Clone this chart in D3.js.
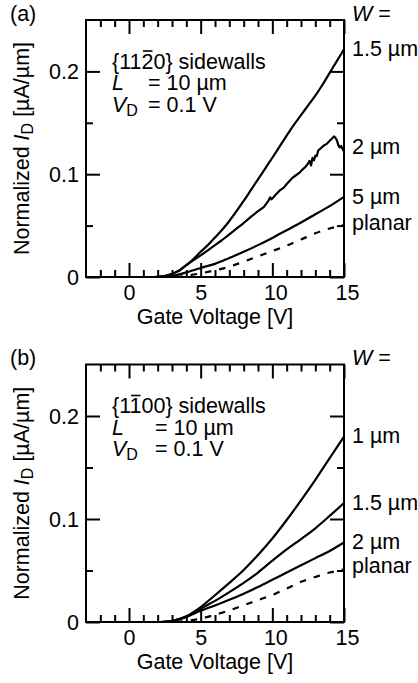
<!DOCTYPE html>
<html>
<head>
<meta charset="utf-8">
<script src="https://cdn.jsdelivr.net/npm/d3@7"></script>
<style>
    body { margin: 0; background: #fff; }
    text { font-family: "Liberation Sans", Arial, Helvetica, sans-serif; font-size: 21.5px; fill: #000; }
</style>
</head>
<body>
<svg id="chart" width="418" height="683"></svg>
<script>
// axis ticks: gate voltage [V] and normalized drain current [µA/µm]
const xMajor = [0, 5, 10, 15];
const xMinor = [-2, -1, 1, 2, 3, 4, 6, 7, 8, 9, 11, 12, 13, 14];
const yMajor = [0, 0.1, 0.2];
const yMinor = [0.05, 0.15];

// panel (a): {11-20} sidewalls, [Vg, Id]
const a15 = [[1.8, 0], [2.5, 0.001], [3, 0.003], [3.5, 0.0065], [4, 0.0115], [4.5, 0.0175], [5, 0.0245], [5.5, 0.031],
    [6, 0.0385], [6.5, 0.046], [7, 0.0545], [7.5, 0.064], [8, 0.074], [8.5, 0.0845], [9, 0.095], [9.5, 0.1055],
    [10, 0.116], [10.5, 0.1268], [11, 0.1375], [11.5, 0.148], [12, 0.1575], [12.5, 0.167], [13, 0.1765],
    [13.5, 0.187], [14, 0.1985], [14.5, 0.21], [15, 0.2215]];
const a2 = [[1.8, 0], [2.5, 0.001], [3, 0.003], [3.5, 0.006], [4, 0.0115], [4.5, 0.0165], [5, 0.021], [5.5, 0.026],
    [6, 0.031], [6.5, 0.036], [7, 0.0415], [7.5, 0.047], [8, 0.0525], [8.5, 0.0585], [9, 0.064], [9.4, 0.068],
    [9.7, 0.0735], [9.85, 0.0775], [9.95, 0.0755], [10.2, 0.0795], [10.5, 0.084], [10.8, 0.087], [11.0, 0.0905],
    [11.2, 0.0935], [11.4, 0.0965], [11.6, 0.0985], [11.9, 0.1015], [12.1, 0.1045], [12.3, 0.107], [12.5, 0.1105],
    [12.6, 0.113], [12.7, 0.1085], [12.8, 0.116], [12.9, 0.1135], [13.0, 0.118], [13.1, 0.1175], [13.2, 0.123],
    [13.4, 0.1255], [13.6, 0.128], [13.8, 0.1295], [14.0, 0.1325], [14.15, 0.1345], [14.3, 0.1368], [14.4, 0.1355],
    [14.5, 0.133], [14.6, 0.1285], [14.7, 0.126], [14.8, 0.1275], [14.9, 0.1245], [15, 0.122]];
const a5 = [[1.8, 0], [2.6, 0.0003], [3, 0.001], [3.5, 0.0025], [4, 0.0045], [4.5, 0.0065], [5, 0.0088], [6, 0.0128],
    [7, 0.0185], [8, 0.0245], [9, 0.031], [10, 0.038], [11, 0.0455], [12, 0.053], [13, 0.061], [14, 0.069], [15, 0.078]];
const aPlanar = [[3.3, 0], [4, 0.0012], [5, 0.0036], [6, 0.0065], [7, 0.0100], [8, 0.0150], [9, 0.0200], [10, 0.0252],
    [11, 0.0305], [12, 0.0365], [13, 0.0425], [14, 0.0472], [15, 0.0505]];

// panel (b): {1-100} sidewalls
const b1 = [[2.2, 0], [3, 0.001], [4, 0.0055], [5, 0.0145], [6, 0.026], [7, 0.038], [8, 0.0505], [9, 0.065],
    [10, 0.081], [11, 0.099], [12, 0.118], [13, 0.138], [14, 0.159], [15, 0.180]];
const b15 = [[2.2, 0], [3, 0.001], [4, 0.005], [5, 0.013], [6, 0.0205], [7, 0.029], [8, 0.038], [9, 0.048],
    [10, 0.0595], [11, 0.0705], [12, 0.0805], [13, 0.091], [14, 0.103], [15, 0.1155]];
const b2 = [[2.2, 0], [3, 0.001], [4, 0.005], [5, 0.011], [6, 0.016], [7, 0.0215], [8, 0.0275], [9, 0.034],
    [10, 0.041], [11, 0.048], [12, 0.055], [13, 0.062], [14, 0.069], [15, 0.0772]];
const bPlanar = [[3.3, 0], [4, 0.001], [5, 0.0033], [6, 0.007], [7, 0.0113], [8, 0.0163], [9, 0.0212], [10, 0.0263],
    [11, 0.0325], [12, 0.039], [13, 0.0437], [14, 0.048], [15, 0.051]];

const labelsA = ['1.5 µm', '2 µm', '5 µm', 'planar'];
const labelsB = ['1 µm', '1.5 µm', '2 µm', 'planar'];

const svg = d3.select('#chart');
const left = 86, right = 344;

const panels = [
    {
        tag: '(a)', top: 20, bottom: 277, plane: '{1120}', bar: 3, eqX: 148,
        series: [a15, a2, a5, aPlanar], noisy: 1,
        labels: labelsA, labelY: [56, 153.5, 203.5, 229.5]
    },
    {
        tag: '(b)', top: 364.5, bottom: 622, plane: '{1100}', bar: 2, eqX: 155,
        series: [b1, b15, b2, bPlanar], noisy: -1,
        labels: labelsB, labelY: [443, 510, 549, 573]
    }
];

const drawPanel = (p) => {
    const g = svg.append('g');
    const x = d3.scaleLinear().domain([-3, 15]).range([left, right]);
    const y = d3.scaleLinear().domain([0, 0.25]).range([p.bottom, p.top]);

    const smooth = d3.line().x(d => x(d[0])).y(d => y(d[1])).curve(d3.curveMonotoneX);
    const rough = d3.line().x(d => x(d[0])).y(d => y(d[1]));

    p.series.forEach((s, i) => {
        const last = i === p.series.length - 1;
        g.append('path')
            .attr('d', i === p.noisy ? rough(s) : smooth(s))
            .attr('fill', 'none')
            .attr('stroke', '#000')
            .attr('stroke-width', 2.2)
            .attr('stroke-linejoin', 'round')
            .attr('stroke-dasharray', last ? '6.5,8' : null);
    });

    // inward ticks on all four sides
    const addAxis = (axis, tx, ty) => {
        const a = g.append('g').attr('transform', `translate(${tx},${ty})`).call(axis);
        a.select('.domain').remove();
        a.selectAll('line').attr('stroke-width', 2);
        return a;
    };
    const fmt = d => d === 0 ? '0' : d3.format('.1f')(d);

    addAxis(d3.axisBottom(x).tickValues(xMajor).tickSize(-14).tickPadding(7.5), 0, p.bottom)
        .selectAll('text').attr('font-size', null)
        .attr('dx', d => d >= 10 ? 3 : 0);
    addAxis(d3.axisBottom(x).tickValues(xMinor).tickSize(-7).tickFormat(''), 0, p.bottom);
    addAxis(d3.axisTop(x).tickValues(xMajor).tickSize(-14).tickFormat(''), 0, p.top);
    addAxis(d3.axisTop(x).tickValues(xMinor).tickSize(-7).tickFormat(''), 0, p.top);
    addAxis(d3.axisLeft(y).tickValues(yMajor).tickSize(-14).tickPadding(7).tickFormat(fmt), left, 0)
        .selectAll('text').attr('font-size', null).attr('dy', '0.35em');
    addAxis(d3.axisLeft(y).tickValues(yMinor).tickSize(-7).tickFormat(''), left, 0);
    addAxis(d3.axisRight(y).tickValues(yMajor).tickSize(-14).tickFormat(''), right, 0);
    addAxis(d3.axisRight(y).tickValues(yMinor).tickSize(-7).tickFormat(''), right, 0);
    svg.selectAll('.tick text').attr('font-family', null);

    g.append('rect')
        .attr('x', left).attr('y', p.top)
        .attr('width', right - left).attr('height', p.bottom - p.top)
        .attr('fill', 'none').attr('stroke', '#000').attr('stroke-width', 2);

    // axis titles
    g.append('text')
        .attr('x', (left + right) / 2).attr('y', p.bottom + 47)
        .attr('text-anchor', 'middle')
        .text('Gate Voltage [V]');

    const yt = g.append('text')
        .attr('transform', `translate(29,${(p.top + p.bottom) / 2}) rotate(-90)`)
        .attr('text-anchor', 'middle');
    yt.append('tspan').text('Normalized ');
    yt.append('tspan').attr('font-style', 'italic').text('I');
    yt.append('tspan').attr('font-size', 16).attr('dy', 4).text('D');
    yt.append('tspan').attr('dy', -4).text(' [µA/µm]');

    // panel tag and W header
    g.append('text').attr('x', 10).attr('y', p.top + 0.5).text(p.tag);
    const wt = g.append('text').attr('x', 352).attr('y', p.top + 0.5);
    wt.append('tspan').attr('font-style', 'italic').text('W');
    wt.append('tspan').text(' =');

    p.labels.forEach((l, i) => {
        g.append('text').attr('x', 352).attr('y', p.labelY[i]).text(l);
    });

    // conditions block
    const base = p.top + 48.5;
    const plane = g.append('text').attr('x', 112).attr('y', base).text(p.plane + ' sidewalls');
    const e = plane.node().getExtentOfChar(p.bar);
    g.append('line')
        .attr('x1', e.x + 1.5).attr('x2', e.x + e.width - 1)
        .attr('y1', base - 17.5).attr('y2', base - 17.5)
        .attr('stroke', '#000').attr('stroke-width', 1.6);

    g.append('text').attr('x', 112).attr('y', base + 21.5)
        .attr('font-style', 'italic').text('L');
    g.append('text').attr('x', p.eqX).attr('y', base + 21.5).text('= 10 µm');

    const vd = g.append('text').attr('x', 112).attr('y', base + 43);
    vd.append('tspan').attr('font-style', 'italic').text('V');
    vd.append('tspan').attr('font-size', 16).attr('dy', 4).text('D');
    g.append('text').attr('x', p.eqX).attr('y', base + 43).text('= 0.1 V');
};

panels.forEach(drawPanel);
</script>
</body>
</html>
